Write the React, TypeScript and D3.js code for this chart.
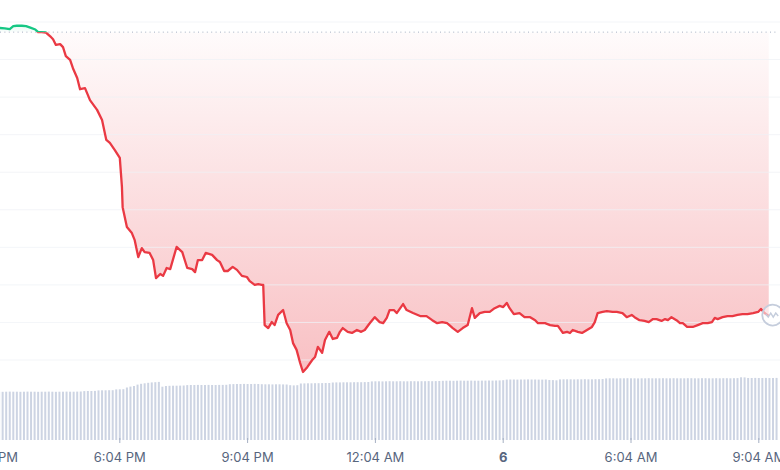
import React from 'react';
import * as d3 from 'd3';

const W = 780, H = 470;

// x axis: minutes since 3:04 PM
const tickMinutes = [0, 180, 360, 540, 720, 900, 1080];
const tickLabels = ['3:04 PM', '6:04 PM', '9:04 PM', '12:04 AM', '6', '6:04 AM', '9:04 AM'];
const gridValues = [1, 2, 3, 4, 5, 6, 7, 8, 9, 10];
const openPrice = 9.73;

const priceMinutes = [
  11, 18, 25, 30, 35, 42, 48, 54, 61, 65, 70, 76,
  82, 86, 90, 96, 100, 104, 110, 114, 120, 124, 131, 138, 148, 155, 161, 166, 173, 180, 183, 184, 190, 197, 201, 206, 211, 215, 222, 227, 231, 237, 241, 246, 251, 260, 268, 275, 282, 286, 290, 296, 301, 310, 317, 321, 327, 332, 339, 345, 352, 359, 363, 370, 375, 380, 382,
  384, 389, 394, 398, 403, 410, 415, 420, 424, 429, 434, 438, 444, 451, 455, 459, 465, 469, 475, 480, 486, 490, 494, 501, 507, 514, 520, 525, 532, 539, 546, 551, 556, 560, 566, 570, 579, 584, 593, 603, 612, 620, 627, 634, 641, 649, 656, 663, 670, 676, 680, 687, 694, 701, 708, 715, 720, 725, 729, 735, 743, 750, 758, 765, 769, 779, 786, 793, 797, 804, 810, 814, 818, 825, 831, 838, 845, 849, 853, 860, 866, 874, 880, 888, 894, 901, 905, 912, 919, 925, 931, 936, 943, 948, 952, 957, 964, 969, 973, 979, 987, 994, 1001, 1008, 1014, 1018, 1022, 1029, 1036, 1043, 1050, 1057, 1064, 1072, 1079, 1083, 1088, 1094,
];
const priceValues = [
  9.84, 9.83, 9.81, 9.89, 9.90, 9.90, 9.89, 9.85, 9.80, 9.73, 9.73, 9.72,
  9.62, 9.54, 9.39, 9.41, 9.33, 9.09, 8.99, 8.77, 8.51, 8.21, 8.24, 7.92, 7.66, 7.39, 6.86, 6.78, 6.59, 6.38, 5.61, 5.07, 4.54, 4.38, 4.19, 3.74, 3.98, 3.87, 3.85, 3.66, 3.18, 3.29, 3.24, 3.45, 3.42, 4.01, 3.87, 3.45, 3.42, 3.34, 3.66, 3.66, 3.85, 3.80, 3.66, 3.61, 3.37, 3.37, 3.48, 3.40, 3.24, 3.21, 3.10, 3.00, 3.02, 3.00, 3.00,
  1.93, 1.85, 2.01, 1.93, 2.20, 2.33, 1.98, 1.80, 1.45, 1.27, 0.92, 0.68, 0.81, 1.00, 1.08, 1.35, 1.19, 1.53, 1.75, 1.56, 1.59, 1.75, 1.85, 1.75, 1.72, 1.80, 1.75, 1.80, 1.98, 2.14, 2.01, 1.98, 2.12, 2.33, 2.33, 2.25, 2.49, 2.33, 2.25, 2.17, 2.17, 2.06, 1.98, 2.01, 1.98, 1.85, 1.75, 1.85, 1.93, 2.38, 2.12, 2.25, 2.28, 2.28, 2.38, 2.44, 2.41, 2.52, 2.38, 2.22, 2.25, 2.14, 2.14, 2.06, 1.98, 1.98, 1.93, 1.91, 1.91, 1.72, 1.75, 1.72, 1.80, 1.75, 1.72, 1.80, 1.88, 2.01, 2.25, 2.28, 2.30, 2.28, 2.28, 2.25, 2.14, 2.20, 2.14, 2.06, 2.04, 2.01, 2.09, 2.09, 2.04, 2.09, 2.06, 2.14, 2.06, 1.98, 1.98, 1.88, 1.88, 1.93, 1.98, 1.98, 2.01, 2.12, 2.09, 2.14, 2.17, 2.17, 2.20, 2.22, 2.22, 2.25, 2.28, 2.36, 2.25, 2.17,
];

// volume, one bar every 5 minutes
const volumeStart = 10;
const volumeStep = 5;
const volumeValues = [
  483, 482, 483, 484, 483, 483, 482, 483, 484, 483, 483, 482, 483, 483, 484, 483, 482, 483, 483, 484, 483, 483, 484, 485,
  489, 490, 490, 491,
  496, 497, 497, 498, 498,
  506, 507, 508,
  525, 534, 540,
  554, 562, 567,
  572, 576, 578, 581,
  533,
  540, 542, 543, 543, 544, 545,
  549, 550, 550, 551, 550, 550, 551, 550, 550, 551, 551, 552,
  558, 559, 560, 560, 561, 560, 560, 561, 560,
  558, 557, 557, 556, 557, 557, 556, 555,
  548, 546, 548,
  565, 566, 567, 567, 568, 568, 569, 570, 570,
  575, 576, 576, 577, 577, 577, 578, 578, 578, 579, 580,
  586, 587, 587, 586, 587, 588, 587, 587, 588, 587, 587, 588, 588, 587, 588, 588, 589, 588, 589, 590,
  592, 593, 593, 592, 593, 594, 593, 593, 594, 593, 593, 594, 594, 595, 594, 595, 596, 598,
  604, 605, 605, 604, 605, 605, 606, 605, 605, 604, 604, 605, 600, 599,
  597,
  606, 607, 607, 607, 606, 607, 607, 608, 607, 607, 608, 608, 610,
  616, 617, 617, 616, 617, 617, 618, 617, 617, 616, 617, 617, 618, 617, 617, 617, 618, 617, 617, 618, 617, 617, 617, 618, 618, 617, 617, 618, 618, 617, 617, 618, 617, 618, 618, 617, 618, 619,
  627, 626,
  620, 620, 621, 620, 620, 621, 620, 620, 621,
];

const GREEN = '#16c784';
const RED = '#ea3943';

export default function App() {
  const x = d3.scaleLinear().domain([0, 1080]).range([-8, 758.8]);
  const y = d3.scaleLinear().domain([1, 10]).range([360, 22]);
  const yVol = d3.scaleLinear().domain([0, 700]).range([440, 370]);
  const yBase = y(openPrice);

  const line = d3.line<number>()
    .x((d, i) => x(priceMinutes[i]))
    .y(d => y(d));
  const area = d3.area<number>()
    .x((d, i) => x(priceMinutes[i]))
    .y0(yBase)
    .y1(d => y(d));

  const lastX = x(priceMinutes[priceMinutes.length - 1]);
  const lastY = y(priceValues[priceValues.length - 1]);

  return (
    <svg width={W} height={H} style={{ position: 'absolute', left: 0, top: 0, background: '#fff' }}>
      <defs>
        <clipPath id="above"><rect x={0} y={0} width={W} height={yBase} /></clipPath>
        <clipPath id="below"><rect x={0} y={yBase} width={W} height={H - yBase} /></clipPath>
        <linearGradient id="redFill" gradientUnits="userSpaceOnUse" x1={0} y1={yBase} x2={0} y2={375}>
          <stop offset="0%" stopColor={RED} stopOpacity={0.02} />
          <stop offset="100%" stopColor={RED} stopOpacity={0.32} />
        </linearGradient>
        <linearGradient id="greenFill" gradientUnits="userSpaceOnUse" x1={0} y1={yBase} x2={0} y2={20}>
          <stop offset="0%" stopColor={GREEN} stopOpacity={0.02} />
          <stop offset="100%" stopColor={GREEN} stopOpacity={0.15} />
        </linearGradient>
      </defs>

      {/* volume bars */}
      <g>
        {volumeValues.map((v, k) => (
          <rect key={k} x={x(volumeStart + k * volumeStep) - 1} y={yVol(v)} width={2} height={yVol(0) - yVol(v)} fill="#cdd4e3" />
        ))}
      </g>

      {/* fills */}
      <path d={area(priceValues) || ''} fill="url(#redFill)" clipPath="url(#below)" />
      <path d={area(priceValues) || ''} fill="url(#greenFill)" clipPath="url(#above)" />

      {/* grid */}
      <g>
        {gridValues.map(g => (
          <line key={g} x1={0} x2={W} y1={y(g)} y2={y(g)} stroke="#eff2f5" strokeOpacity={0.75} strokeWidth={1} />
        ))}
      </g>
      <line x1={0} x2={W - 2} y1={yBase} y2={yBase} stroke="#a6b0c3" strokeWidth={1} strokeDasharray="1 3.4" />

      {/* price line */}
      <path d={line(priceValues) || ''} fill="none" stroke={GREEN} strokeWidth={2.3} strokeLinejoin="round" clipPath="url(#above)" />
      <path d={line(priceValues) || ''} fill="none" stroke={RED} strokeWidth={2.3} strokeLinejoin="round" clipPath="url(#below)" />

      {/* watermark */}
      <g>
        <circle cx={lastX + 4} cy={lastY - 1} r={10.5} fill="#fff" fillOpacity={0.55} stroke="#c5cddc" strokeWidth={1.8} />
        <path d={`M${lastX - 3},${lastY - 2} l2.5,3 l2.5,-4 l2.5,4 l2.5,-4 l2.5,3`} fill="none" stroke="#c5cddc" strokeWidth={1.4} />
      </g>

      {/* x axis */}
      <g fontFamily="Inter, 'Noto Sans', sans-serif" fontSize={13} fill="#58667e" textAnchor="middle">
        {tickMinutes.map((t, i) => (
          <g key={t}>
            <line x1={x(t)} x2={x(t)} y1={438} y2={443} stroke="#a6b0c3" strokeWidth={1} />
            <text x={x(t)} y={462} fontWeight={tickLabels[i] === '6' ? 700 : 400}>{tickLabels[i]}</text>
          </g>
        ))}
      </g>
    </svg>
  );
}
